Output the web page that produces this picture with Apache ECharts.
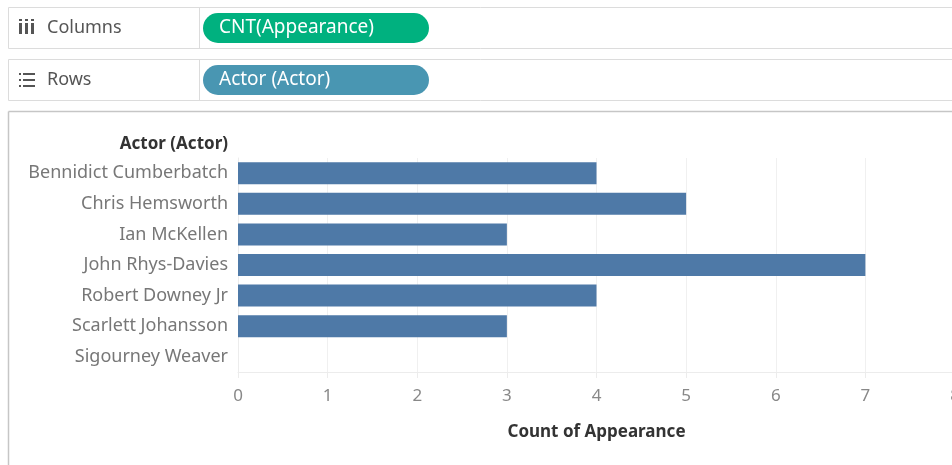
<!DOCTYPE html>
<html>
<head>
<meta charset="utf-8">
<script src="https://cdn.jsdelivr.net/npm/echarts@6/dist/echarts.min.js"></script>
<style>
  html, body { margin: 0; padding: 0; background: #ffffff; }
  #chart { width: 952px; height: 465px; }
</style>
</head>
<body>
<div id="chart"></div>
<script>
// Actors and how many appearances each one has
const actors = [
  'Bennidict Cumberbatch',
  'Chris Hemsworth',
  'Ian McKellen',
  'John Rhys-Davies',
  'Robert Downey Jr',
  'Scarlett Johansson',
  'Sigourney Weaver'
];
const appearanceCounts = [4, 5, 3, 7, 4, 3, 0];
const xTicks = [0, 1, 2, 3, 4, 5, 6, 7, 8];

const FONT = '"Noto Sans", "Open Sans", sans-serif';

const chart = echarts.init(document.getElementById('chart'), null, { renderer: 'canvas' });

// Shelf boxes (Columns / Rows) and the view frame
const shelf = (top, label, pill, pillColor, icon) => {
  const els = [
    { type: 'rect', shape: { x: 8.5, y: top + 0.5, width: 960, height: 41 },
      style: { fill: '#ffffff', stroke: '#dcdcdc', lineWidth: 1 } },
    { type: 'line', shape: { x1: 199.5, y1: top, x2: 199.5, y2: top + 41 },
      style: { stroke: '#dcdcdc', lineWidth: 1 } },
    { type: 'text', x: 47, y: top + 21,
      style: { text: label, font: '18px ' + FONT, fill: '#555555', verticalAlign: 'middle' } },
    { type: 'rect', shape: { x: 203, y: top + 6, width: 226, height: 30, r: 15 },
      style: { fill: pillColor } },
    { type: 'text', x: 219, y: top + 21,
      style: { text: pill, font: '19px ' + FONT, fill: '#ffffff', verticalAlign: 'middle' } }
  ];
  return els.concat(icon);
};

const columnsIcon = [0, 6, 12].map(dx => ({
  type: 'group', children: [
    { type: 'rect', shape: { x: 19 + dx, y: 23, width: 3, height: 11 }, style: { fill: '#555555' } },
    { type: 'rect', shape: { x: 19 + dx, y: 19, width: 3, height: 2 }, style: { fill: '#555555' } }
  ]
}));
const rowsIcon = [0, 6, 12].map(dy => ({
  type: 'group', children: [
    { type: 'rect', shape: { x: 19, y: 73 + dy, width: 2, height: 2 }, style: { fill: '#555555' } },
    { type: 'rect', shape: { x: 23, y: 73 + dy, width: 12, height: 2 }, style: { fill: '#555555' } }
  ]
}));

const graphics = []
  .concat(shelf(7, 'Columns', 'CNT(Appearance)', '#00b17f', columnsIcon))
  .concat(shelf(59, 'Rows', 'Actor (Actor)', '#4996b2', rowsIcon))
  .concat([
    { type: 'line', shape: { x1: 8.5, y1: 111.5, x2: 960, y2: 111.5 },
      style: { stroke: '#c6c6c6', lineWidth: 1.5 } },
    { type: 'line', shape: { x1: 8.5, y1: 111.5, x2: 8.5, y2: 470 },
      style: { stroke: '#c6c6c6', lineWidth: 1.5 } },
    { type: 'text', x: 228, y: 144,
      style: { text: 'Actor (Actor)', font: 'bold 17px ' + FONT, fill: '#333333',
               align: 'right', verticalAlign: 'middle' } }
  ]);

chart.setOption({
  animation: false,
  backgroundColor: '#ffffff',
  graphic: graphics,
  grid: { left: 238, top: 158, width: 717, height: 214, containLabel: false,
          outerBoundsMode: 'none' },
  xAxis: {
    type: 'value',
    min: xTicks[0],
    max: xTicks[xTicks.length - 1],
    interval: 1,
    name: 'Count of Appearance',
    nameLocation: 'middle',
    nameGap: 52,
    nameTextStyle: { fontFamily: FONT, fontSize: 17, fontWeight: 'bold', color: '#333333' },
    axisLine: { show: true, lineStyle: { color: '#ececec', width: 1 } },
    axisTick: { show: true, length: 6, lineStyle: { color: '#ececec' } },
    axisLabel: { fontFamily: FONT, fontSize: 17, color: '#888888', margin: 16,
                 showMinLabel: true, showMaxLabel: true },
    splitLine: { show: true, lineStyle: { color: '#f0f0f0', width: 1 } }
  },
  yAxis: {
    type: 'category',
    data: actors,
    inverse: true,
    axisLine: { show: true, lineStyle: { color: '#ececec' } },
    axisTick: { show: false },
    axisLabel: { fontFamily: FONT, fontSize: 18, color: '#777777', margin: 10 }
  },
  series: [{
    type: 'bar',
    data: appearanceCounts,
    barCategoryGap: '28%',
    itemStyle: { color: '#4e79a7' },
    silent: true
  }]
});
</script>
</body>
</html>
